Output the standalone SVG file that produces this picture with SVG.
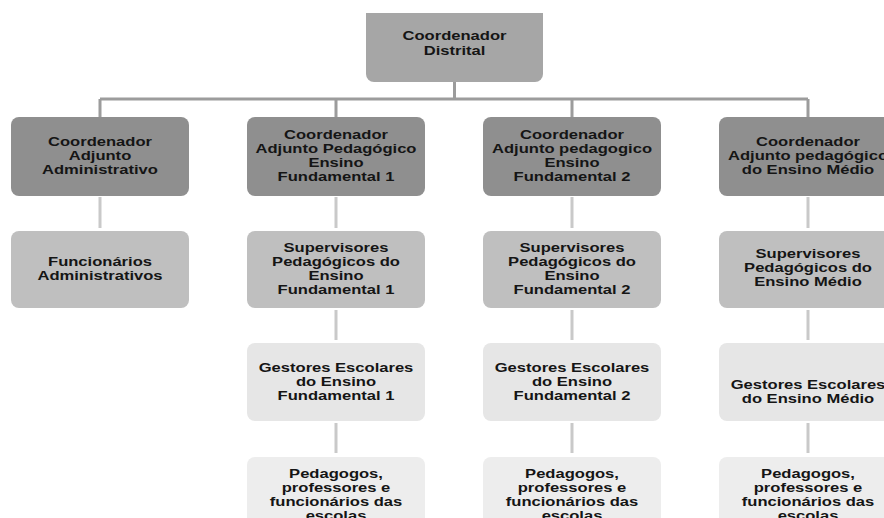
<svg xmlns="http://www.w3.org/2000/svg" width="884" height="518" viewBox="0 0 884 518">
<style>
text{font-family:"Liberation Sans",Arial,sans-serif;font-weight:bold;font-size:12px;fill:#151515;text-anchor:middle}
.l0{fill:#a6a6a6}
.l1{fill:#8f8f8f}
.l2{fill:#bfbfbf}
.l3{fill:#e6e6e6}
.l4{fill:#ededed}
.c0{stroke:#9c9c9c;stroke-width:3;fill:none}
.c1{stroke:#c9c9c9;stroke-width:3;fill:none}
</style>
<rect width="884" height="518" fill="#ffffff"/>
<g id="connectors">
<path class="c0" d="M454.5,82V99M100,99H808M100,99V117M336,99V117M572,99V117M808,99V117"/>
<path class="c1" d="M100,197V228M336,197V228M572,197V228M808,197V228"/>
<path class="c1" d="M336,310V340M572,310V340M808,310V340"/>
<path class="c1" d="M336,423V453M572,423V453M808,423V453"/>
</g>
<g id="n-distrital">
<path class="l0" d="M366,13H543V74A8,8 0 0 1 535,82H374A8,8 0 0 1 366,74Z"/>
<text transform="translate(454.5 0) scale(1.38 1)"><tspan x="0" y="40">Coordenador</tspan><tspan x="0" y="55">Distrital</tspan></text>
</g>
<g id="n-adm">
<rect class="l1" x="11" y="117" width="178" height="79" rx="8"/>
<text transform="translate(100 0) scale(1.38 1)"><tspan x="0" y="146">Coordenador</tspan><tspan x="0" y="160">Adjunto</tspan><tspan x="0" y="174">Administrativo</tspan></text>
</g>
<g id="n-ef1">
<rect class="l1" x="247" y="117" width="178" height="79" rx="8"/>
<text transform="translate(336 0) scale(1.38 1)"><tspan x="0" y="139">Coordenador</tspan><tspan x="0" y="153">Adjunto Pedagógico</tspan><tspan x="0" y="167">Ensino</tspan><tspan x="0" y="181">Fundamental  1</tspan></text>
</g>
<g id="n-ef2">
<rect class="l1" x="483" y="117" width="178" height="79" rx="8"/>
<text transform="translate(572 0) scale(1.38 1)"><tspan x="0" y="139">Coordenador</tspan><tspan x="0" y="153">Adjunto pedagogico</tspan><tspan x="0" y="167">Ensino</tspan><tspan x="0" y="181">Fundamental 2</tspan></text>
</g>
<g id="n-em">
<rect class="l1" x="719" y="117" width="178" height="79" rx="8"/>
<text transform="translate(808 0) scale(1.38 1)"><tspan x="0" y="146">Coordenador</tspan><tspan x="0" y="160">Adjunto pedagógico</tspan><tspan x="0" y="174">do Ensino Médio</tspan></text>
</g>
<g id="n-func-adm">
<rect class="l2" x="11" y="231" width="178" height="77" rx="8"/>
<text transform="translate(100 0) scale(1.38 1)"><tspan x="0" y="266">Funcionários</tspan><tspan x="0" y="280">Administrativos</tspan></text>
</g>
<g id="n-sup-ef1">
<rect class="l2" x="247" y="231" width="178" height="77" rx="8"/>
<text transform="translate(336 0) scale(1.38 1)"><tspan x="0" y="252">Supervisores</tspan><tspan x="0" y="266">Pedagógicos do</tspan><tspan x="0" y="280">Ensino</tspan><tspan x="0" y="294">Fundamental 1</tspan></text>
</g>
<g id="n-sup-ef2">
<rect class="l2" x="483" y="231" width="178" height="77" rx="8"/>
<text transform="translate(572 0) scale(1.38 1)"><tspan x="0" y="252">Supervisores</tspan><tspan x="0" y="266">Pedagógicos do</tspan><tspan x="0" y="280">Ensino</tspan><tspan x="0" y="294">Fundamental 2</tspan></text>
</g>
<g id="n-sup-em">
<rect class="l2" x="719" y="231" width="178" height="77" rx="8"/>
<text transform="translate(808 0) scale(1.38 1)"><tspan x="0" y="258">Supervisores</tspan><tspan x="0" y="272">Pedagógicos do</tspan><tspan x="0" y="286">Ensino Médio</tspan></text>
</g>
<g id="n-gest-ef1">
<rect class="l3" x="247" y="343" width="178" height="78" rx="8"/>
<text transform="translate(336 0) scale(1.38 1)"><tspan x="0" y="372">Gestores Escolares</tspan><tspan x="0" y="386">do Ensino</tspan><tspan x="0" y="400">Fundamental 1</tspan></text>
</g>
<g id="n-gest-ef2">
<rect class="l3" x="483" y="343" width="178" height="78" rx="8"/>
<text transform="translate(572 0) scale(1.38 1)"><tspan x="0" y="372">Gestores Escolares</tspan><tspan x="0" y="386">do Ensino</tspan><tspan x="0" y="400">Fundamental 2</tspan></text>
</g>
<g id="n-gest-em">
<rect class="l3" x="719" y="343" width="178" height="78" rx="8"/>
<text transform="translate(808 0) scale(1.38 1)"><tspan x="0" y="389">Gestores Escolares</tspan><tspan x="0" y="403">do Ensino Médio</tspan></text>
</g>
<g id="n-ped-ef1">
<rect class="l4" x="247" y="457" width="178" height="80" rx="8"/>
<text transform="translate(336 0) scale(1.38 1)"><tspan x="0" y="478">Pedagogos,</tspan><tspan x="0" y="492">professores e</tspan><tspan x="0" y="506">funcionários das</tspan><tspan x="0" y="520">escolas</tspan></text>
</g>
<g id="n-ped-ef2">
<rect class="l4" x="483" y="457" width="178" height="80" rx="8"/>
<text transform="translate(572 0) scale(1.38 1)"><tspan x="0" y="478">Pedagogos,</tspan><tspan x="0" y="492">professores e</tspan><tspan x="0" y="506">funcionários das</tspan><tspan x="0" y="520">escolas</tspan></text>
</g>
<g id="n-ped-em">
<rect class="l4" x="719" y="457" width="178" height="80" rx="8"/>
<text transform="translate(808 0) scale(1.38 1)"><tspan x="0" y="478">Pedagogos,</tspan><tspan x="0" y="492">professores e</tspan><tspan x="0" y="506">funcionários das</tspan><tspan x="0" y="520">escolas</tspan></text>
</g>
</svg>
